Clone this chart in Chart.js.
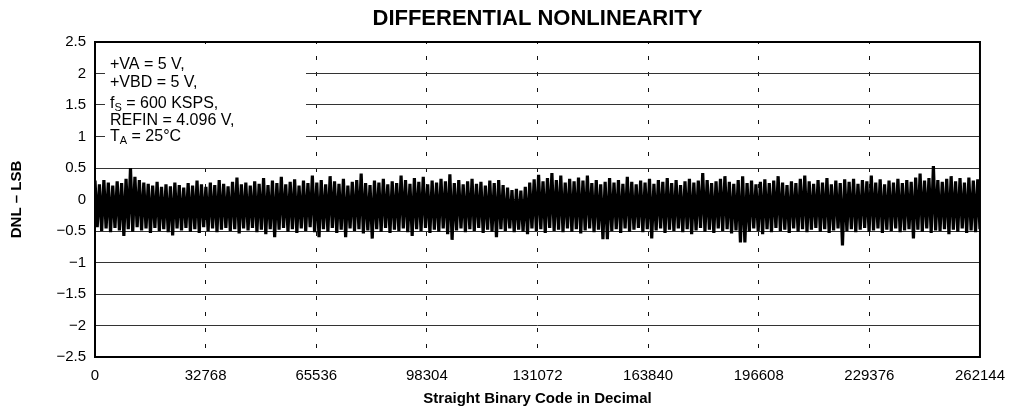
<!DOCTYPE html>
<html>
<head>
<meta charset="utf-8">
<script src="https://cdn.jsdelivr.net/npm/chart.js@4.4.1/dist/chart.umd.min.js"></script>
<style>
  html, body { margin: 0; padding: 0; background: #fff; }
</style>
</head>
<body>
<canvas id="dnlChart" width="1015" height="410"></canvas>
<script>
const FONT = '"Liberation Sans", Arial, Helvetica, sans-serif';

// axis ticks
const xTicks = [0, 32768, 65536, 98304, 131072, 163840, 196608, 229376, 262144];
const xTickLabels = ['0', '32768', '65536', '98304', '131072', '163840', '196608', '229376', '262144'];
const yTicks = [-2.5, -2, -1.5, -1, -0.5, 0, 0.5, 1, 1.5, 2, 2.5];
const yTickLabels = ['\u22122.5', '\u22122', '\u22121.5', '\u22121', '\u22120.5', '0', '0.5', '1', '1.5', '2', '2.5'];

// DNL envelope: per bin max and min (LSB), 200 bins over the code range
const dnlHigh = [
  0.30,0.24,0.31,0.27,0.22,0.29,0.26,0.33,0.50,0.36,
  0.31,0.27,0.25,0.22,0.28,0.20,0.24,0.21,0.27,0.23,
  0.19,0.26,0.22,0.30,0.24,0.20,0.27,0.23,0.31,0.25,
  0.21,0.28,0.35,0.24,0.27,0.22,0.29,0.25,0.34,0.23,
  0.30,0.26,0.36,0.24,0.28,0.32,0.22,0.30,0.26,0.38,
  0.27,0.31,0.24,0.37,0.29,0.25,0.33,0.22,0.28,0.31,
  0.41,0.26,0.23,0.30,0.27,0.33,0.24,0.29,0.26,0.38,
  0.31,0.25,0.34,0.28,0.36,0.24,0.30,0.27,0.33,0.29,
  0.40,0.26,0.31,0.24,0.29,0.33,0.25,0.28,0.22,0.30,
  0.26,0.31,0.23,0.19,0.15,0.17,0.14,0.20,0.27,0.32,
  0.39,0.29,0.34,0.42,0.31,0.38,0.27,0.33,0.29,0.35,
  0.30,0.38,0.26,0.31,0.24,0.28,0.34,0.27,0.31,0.25,
  0.36,0.28,0.24,0.30,0.27,0.33,0.25,0.31,0.28,0.34,
  0.26,0.31,0.23,0.29,0.33,0.27,0.30,0.42,0.31,0.26,
  0.29,0.33,0.37,0.28,0.25,0.31,0.37,0.26,0.30,0.24,
  0.28,0.32,0.26,0.30,0.37,0.27,0.23,0.29,0.26,0.33,
  0.38,0.29,0.25,0.31,0.27,0.34,0.24,0.30,0.26,0.32,
  0.28,0.33,0.25,0.31,0.29,0.38,0.27,0.32,0.24,0.30,
  0.27,0.33,0.26,0.31,0.28,0.35,0.41,0.30,0.34,0.53,
  0.31,0.28,0.33,0.37,0.29,0.34,0.27,0.35,0.30,0.32
];
const dnlLow = [
  -0.44,-0.50,-0.46,-0.52,-0.45,-0.49,-0.58,-0.47,-0.51,-0.44,
  -0.49,-0.46,-0.53,-0.45,-0.50,-0.47,-0.52,-0.57,-0.46,-0.49,
  -0.45,-0.51,-0.47,-0.53,-0.44,-0.50,-0.46,-0.52,-0.48,-0.45,
  -0.50,-0.47,-0.54,-0.46,-0.49,-0.45,-0.52,-0.48,-0.55,-0.47,
  -0.60,-0.48,-0.45,-0.51,-0.47,-0.53,-0.46,-0.50,-0.44,-0.52,
  -0.60,-0.47,-0.51,-0.45,-0.53,-0.48,-0.60,-0.46,-0.50,-0.47,
  -0.54,-0.49,-0.62,-0.47,-0.51,-0.45,-0.53,-0.48,-0.50,-0.46,
  -0.52,-0.58,-0.47,-0.50,-0.45,-0.53,-0.48,-0.51,-0.46,-0.55,
  -0.64,-0.49,-0.46,-0.52,-0.47,-0.50,-0.45,-0.53,-0.48,-0.51,
  -0.60,-0.47,-0.50,-0.46,-0.52,-0.48,-0.51,-0.55,-0.46,-0.50,
  -0.47,-0.53,-0.45,-0.50,-0.48,-0.52,-0.46,-0.51,-0.47,-0.54,
  -0.49,-0.46,-0.52,-0.48,-0.63,-0.63,-0.50,-0.47,-0.53,-0.46,
  -0.51,-0.48,-0.45,-0.52,-0.47,-0.62,-0.49,-0.46,-0.53,-0.48,
  -0.50,-0.46,-0.52,-0.47,-0.55,-0.49,-0.45,-0.51,-0.48,-0.53,
  -0.46,-0.50,-0.47,-0.54,-0.49,-0.68,-0.68,-0.51,-0.46,-0.50,
  -0.55,-0.47,-0.52,-0.45,-0.50,-0.48,-0.53,-0.46,-0.51,-0.47,
  -0.52,-0.48,-0.45,-0.51,-0.47,-0.53,-0.49,-0.46,-0.73,-0.50,
  -0.47,-0.52,-0.48,-0.45,-0.51,-0.49,-0.46,-0.53,-0.48,-0.50,
  -0.46,-0.52,-0.49,-0.47,-0.62,-0.48,-0.51,-0.46,-0.53,-0.49,
  -0.50,-0.47,-0.55,-0.48,-0.51,-0.46,-0.53,-0.49,-0.52,-0.47
];

// test conditions box: [text, isSubscript]
const noteLines = [
  [['+VA = 5 V,', false]],
  [['+VBD = 5 V,', false]],
  [['f', false], ['S', true], [' = 600 KSPS,', false]],
  [['REFIN = 4.096 V,', false]],
  [['T', false], ['A', true], [' = 25\u00B0C', false]]
];

const CODE_MAX = 262144;

// zigzag between max and min of each bin so the band fills solid
const points = [];
const nSeg = dnlHigh.length * 2 - 1;
dnlHigh.forEach((h, i) => {
  points.push({ x: (2 * i) * CODE_MAX / nSeg, y: h });
  points.push({ x: (2 * i + 1) * CODE_MAX / nSeg, y: dnlLow[i] });
});

const decor = {
  id: 'decor',
  beforeDatasetsDraw(chart) {
    const ctx = chart.ctx;
    ctx.save();
    // legend box hides the grid behind it
    ctx.fillStyle = '#fff';
    ctx.fillRect(105, 50, 201, 108);
    ctx.fillStyle = '#000';
    ctx.textBaseline = 'middle';
    ctx.textAlign = 'left';
    const ys = [65, 83, 104, 121, 137];
    noteLines.forEach((parts, i) => {
      let x = 110;
      parts.forEach(([txt, sub]) => {
        ctx.font = (sub ? '11px ' : '16px ') + FONT;
        ctx.fillText(txt, x, ys[i] + (sub ? 4 : 0));
        x += ctx.measureText(txt).width;
      });
    });
    ctx.restore();
  },
  afterDraw(chart) {
    const ctx = chart.ctx;
    const a = chart.chartArea;
    ctx.save();
    ctx.strokeStyle = '#000';
    ctx.lineWidth = 2;
    ctx.strokeRect(a.left, a.top, a.right - a.left, a.bottom - a.top);
    ctx.fillStyle = '#000';
    ctx.font = 'bold 22px ' + FONT;
    ctx.textAlign = 'center';
    ctx.textBaseline = 'middle';
    ctx.fillText('DIFFERENTIAL NONLINEARITY', (a.left + a.right) / 2, 19);
    ctx.restore();
  }
};

new Chart(document.getElementById('dnlChart'), {
  type: 'line',
  data: {
    datasets: [{
      label: 'DNL',
      data: points,
      borderColor: '#000',
      borderWidth: 3.2,
      borderJoinStyle: 'bevel',
      pointRadius: 0,
      tension: 0,
      fill: false
    }]
  },
  options: {
    responsive: false,
    animation: false,
    events: [],
    layout: { padding: { top: 42, right: 35, left: 0, bottom: 0 } },
    plugins: { legend: { display: false }, tooltip: { enabled: false } },
    scales: {
      x: {
        type: 'linear',
        min: 0,
        max: CODE_MAX,
        afterBuildTicks: s => { s.ticks = xTicks.map(v => ({ value: v })); },
        afterFit: s => { s.height = 53; },
        ticks: {
          callback: (v, i) => xTickLabels[i],
          font: { family: FONT, size: 15 },
          color: '#000',
          padding: 10,
          maxRotation: 0,
          autoSkip: false
        },
        grid: { color: '#111', lineWidth: 1, drawTicks: false },
        border: { display: false, dash: [4, 12], dashOffset: 2 },
        title: {
          display: true,
          text: 'Straight Binary Code in Decimal',
          font: { family: FONT, size: 15, weight: 'bold' },
          color: '#000',
          padding: { top: 0, bottom: 2 }
        }
      },
      y: {
        min: -2.5,
        max: 2.5,
        afterBuildTicks: s => { s.ticks = yTicks.map(v => ({ value: v })); },
        afterFit: s => { s.width = 95; },
        ticks: {
          callback: (v, i) => yTickLabels[i],
          font: { family: FONT, size: 15 },
          color: '#000',
          padding: 9
        },
        grid: { color: '#333', lineWidth: 1, drawTicks: false },
        border: { display: false },
        title: {
          display: true,
          text: 'DNL \u2013 LSB',
          font: { family: FONT, size: 15, weight: 'bold' },
          color: '#000',
          padding: { top: 8, bottom: 0 }
        }
      }
    }
  },
  plugins: [decor]
});
</script>
</body>
</html>
